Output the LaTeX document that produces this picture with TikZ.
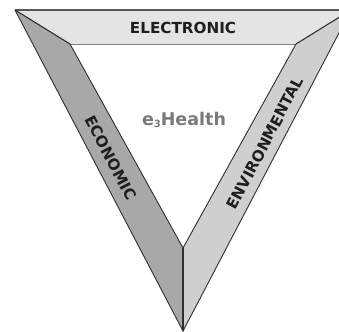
\documentclass[tikz,border=0pt]{standalone}
\usepackage{fontspec}
\setsansfont{DejaVu Sans}
\definecolor{topband}{HTML}{E4E4E4}
\definecolor{leftband}{HTML}{A8A8A8}
\definecolor{rightband}{HTML}{CFCFCF}
\definecolor{edge}{HTML}{2E2E2E}
\definecolor{labeltext}{HTML}{1E1E1E}
\definecolor{titletext}{HTML}{7A7A7A}
\begin{document}
\begin{tikzpicture}[x=1pt,y=-1pt,
  bandlabel/.style={font=\sffamily\bfseries\fontsize{15.2}{17}\selectfont, text=labeltext, inner sep=0pt},
  seam/.style={draw=edge, line width=0.9pt, line join=miter}]
\useasboundingbox (0,0) rectangle (339,331);
\clip (0,0) rectangle (339,331);
\coordinate (OL) at (15,10);
\coordinate (OR) at (351,10);
\coordinate (OB) at (183,331);
\coordinate (IL) at (70,44);
\coordinate (IR) at (296,44);
\coordinate (IB) at (183,248);
% bands
\fill[topband] (OL) -- (OR) -- (IR) -- (IL) -- cycle;
\fill[leftband] (OL) -- (IL) -- (IB) -- (OB) -- cycle;
\fill[rightband] (OR) -- (OB) -- (IB) -- (IR) -- cycle;
% outlines
\draw[seam] (OL) -- (OB) -- (OR);
\draw[draw=edge!80, line width=1.6pt] (OL) -- (OR);
\draw[draw=edge!60, line width=0.6pt] (IL) -- (IR);
\draw[seam] (IL) -- (IB) -- (IR);
\draw[seam, line width=1.1pt] (OL) -- (IL);
\draw[seam, line width=1.1pt] (OR) -- (IR);
\draw[seam, line width=1.1pt] (IB) -- (OB);
% labels
\node[bandlabel] (electronic) at (183,27.5) {ELECTRONIC};
\node[bandlabel, rotate=-62.4] (economic) at (111,158) {ECONOMIC};
\node[bandlabel, rotate=62.4] (environmental) at (265,143) {ENVIRONMENTAL};
\node[font=\sffamily\bfseries\fontsize{17.5}{20}\selectfont, text=titletext, inner sep=0pt] (ehealth) at (184,120) {e\raisebox{-0.25ex}{\fontsize{10}{12}\selectfont 3}Health};
\end{tikzpicture}
\end{document}
